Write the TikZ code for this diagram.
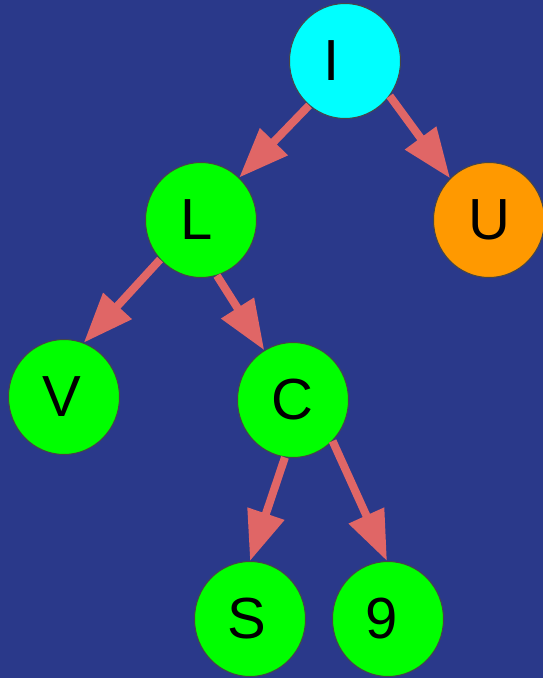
\documentclass[tikz,border=0pt]{standalone}
\usepackage{fontspec}
\setmainfont{Liberation Sans}
\usetikzlibrary{shapes.geometric,arrows.meta}
\definecolor{bg}{RGB}{42,57,138}
\definecolor{edgecol}{RGB}{224,102,102}
\definecolor{rim}{RGB}{70,70,70}
\definecolor{leafgreen}{RGB}{0,255,0}
\definecolor{rootcyan}{RGB}{0,255,255}
\definecolor{leaforange}{RGB}{255,153,0}
\begin{document}
\begin{tikzpicture}[x=1pt,y=-1pt,
  treenode/.style={ellipse, draw=rim, line width=1pt, minimum width=111pt,
    minimum height=115pt, inner sep=0pt, font=\fontsize{58}{58}\selectfont},
  link/.style={draw=edgecol, line width=8pt,
    -{Triangle[length=50pt,width=37pt]}}]
\fill[bg] (0,0) rectangle (543,678);
\useasboundingbox (0,0) rectangle (543,678);

\node[treenode, fill=rootcyan]   (i)    at (345,61)  {\hspace*{-27pt}I};
\node[treenode, fill=leafgreen]  (l)    at (201,220) {\hspace*{-8pt}L};
\node[treenode, fill=leaforange] (u)    at (489,220) {U};
\node[treenode, fill=leafgreen]  (v)    at (64,397)  {\hspace*{-4pt}V};
\node[treenode, fill=leafgreen]  (c)    at (293,400) {\hspace*{-2pt}C};
\node[treenode, fill=leafgreen]  (s)    at (250,619) {\hspace*{-6pt}S};
\node[treenode, fill=leafgreen]  (nine) at (388,619) {\hspace*{-12pt}9};

\draw[link] (i.231) -- (l.48);
\draw[link] (i.322) -- (u.133);
\draw[link] (l.224) -- (v.70);
\draw[link] (l.286) -- (c.120);
\draw[link] (c.262) -- (s.90);
\draw[link] (c.314) -- (nine.91);
\end{tikzpicture}
\end{document}
